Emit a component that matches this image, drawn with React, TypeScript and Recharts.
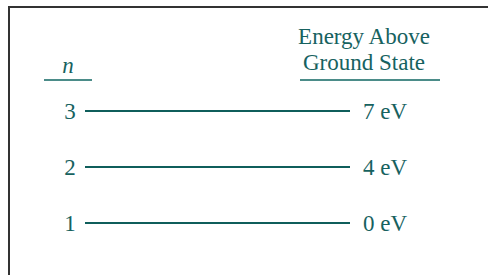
import React from "react";
import { ComposedChart, Line, XAxis, YAxis, Customized } from "recharts";

const levels = [1, 2, 3];
const energyLabels = ["0 eV", "4 eV", "7 eV"];
const leftHeader = "n";
const rightHeader = ["Energy Above", "Ground State"];
const span = [0, 1];

const FONT = "'Liberation Serif', 'Times New Roman', serif";
const FS = 23;
const TEXT = "#17625f";
const LINE = "#0f5e5b";
const RULE = "#4b8c89";

const data = span.map((x) => {
  const row: Record<string, number> = { x };
  levels.forEach((n) => {
    row["n" + n] = n;
  });
  return row;
});

const LeftTick = (props: any) => {
  const { x, y, payload } = props;
  return (
    <text x={x} y={y} dy={8} textAnchor="middle" fontFamily={FONT} fontSize={FS} fill={TEXT}>
      {payload.value}
    </text>
  );
};

const RightTick = (props: any) => {
  const { x, y, payload } = props;
  const idx = levels.indexOf(payload.value);
  return (
    <text x={x} y={y} dy={8} textAnchor="start" fontFamily={FONT} fontSize={FS} fill={TEXT}>
      {energyLabels[idx]}
    </text>
  );
};

const Headers = () => (
  <g>
    <text x={68} y={73} textAnchor="middle" fontFamily={FONT} fontStyle="italic" fontSize={FS} fill={TEXT}>
      {leftHeader}
    </text>
    <line x1={44} x2={92} y1={80} y2={80} stroke={RULE} strokeWidth={2} />
    {rightHeader.map((t, i) => (
      <text key={t} x={364} y={44 + i * 25.5} textAnchor="middle" fontFamily={FONT} fontSize={FS} fill={TEXT}>
        {t}
      </text>
    ))}
    <line x1={300} x2={440} y1={80} y2={80} stroke={RULE} strokeWidth={2} />
  </g>
);

export default function App() {
  return (
    <div style={{ position: "absolute", left: 0, top: 0, width: 488, height: 275, background: "#fff" }}>
      <div
        style={{
          position: "absolute",
          left: 8,
          top: 6,
          width: 480,
          height: 269,
          borderLeft: "2px solid #333",
          borderTop: "2px solid #333",
        }}
      />
      <div style={{ position: "absolute", left: 0, top: 0 }}>
        <ComposedChart width={488} height={275} data={data} margin={{ top: 83, right: 0, bottom: 24, left: 0 }}>
          <XAxis dataKey="x" type="number" domain={[0, 1]} hide />
          <YAxis
            yAxisId="left"
            type="number"
            domain={[0.5, 3.5]}
            ticks={levels}
            width={85}
            axisLine={false}
            tickLine={false}
            tickSize={0}
            tickMargin={15}
            tick={<LeftTick />}
          />
          <YAxis
            yAxisId="right"
            orientation="right"
            type="number"
            domain={[0.5, 3.5]}
            ticks={levels}
            width={138}
            axisLine={false}
            tickLine={false}
            tickSize={0}
            tickMargin={13}
            tick={<RightTick />}
          />
          {levels.map((n, i) => (
            <Line
              key={n}
              yAxisId={i === 0 ? "right" : "left"}
              dataKey={"n" + n}
              stroke={LINE}
              strokeWidth={2}
              dot={false}
              isAnimationActive={false}
            />
          ))}
          <Customized component={Headers} />
        </ComposedChart>
      </div>
    </div>
  );
}
